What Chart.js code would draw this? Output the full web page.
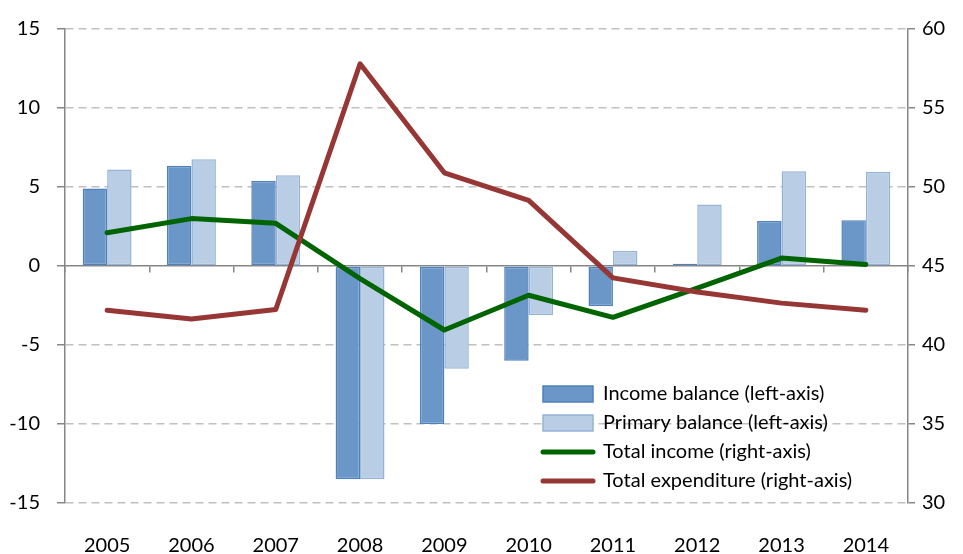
<!DOCTYPE html>
<html>
<head>
<meta charset="utf-8">
<script src="https://cdn.jsdelivr.net/npm/chart.js@4/dist/chart.umd.min.js"></script>
<style>
  html, body { margin: 0; padding: 0; background: #fff; }
</style>
</head>
<body>
<canvas id="my-chart" width="963" height="554"></canvas>
<script>
const years = ['2005', '2006', '2007', '2008', '2009', '2010', '2011', '2012', '2013', '2014'];
const incomeBalance = [4.9, 6.35, 5.4, -13.5, -10.0, -6.0, -2.55, 0.15, 2.85, 2.9];
const primaryBalance = [6.1, 6.75, 5.75, -13.5, -6.5, -3.1, 0.95, 3.9, 6.0, 5.95];
const totalIncome = [47.1, 48.0, 47.7, 44.2, 40.95, 43.15, 41.75, 43.6, 45.5, 45.1];
const totalExpenditure = [42.2, 41.65, 42.25, 57.8, 50.9, 49.15, 44.25, 43.35, 42.65, 42.2];
const leftTicks = [-15, -10, -5, 0, 5, 10, 15];
const rightTicks = [30, 35, 40, 45, 50, 55, 60];

const axisGrey = 'rgb(134,134,134)';
const gridGrey = 'rgb(192,192,192)';

Chart.defaults.font.family = 'Lato, "Open Sans", sans-serif';
Chart.defaults.font.size = 20;
Chart.defaults.color = '#000';

// move the legend into the lower right corner of the plot
const legendSpot = {
  id: 'legendSpot',
  afterLayout(chart) {
    const lg = chart.legend;
    lg.left = 534;
    lg.right = chart.chartArea.right;
    lg.width = lg.right - lg.left;
    lg.bottom = 500;
  }
};

const ctx = document.getElementById('my-chart').getContext('2d');
new Chart(ctx, {
  type: 'bar',
  data: {
    labels: years,
    datasets: [
      {
        label: 'Income balance (left-axis)',
        data: incomeBalance,
        backgroundColor: 'rgb(106,150,200)',
        borderColor: 'rgb(79,129,189)',
        borderWidth: 1.5,
        borderSkipped: false,
        yAxisID: 'y',
        order: 2
      },
      {
        label: 'Primary balance (left-axis)',
        data: primaryBalance,
        backgroundColor: 'rgb(185,205,229)',
        borderColor: 'rgb(149,179,215)',
        borderWidth: 1.5,
        borderSkipped: false,
        yAxisID: 'y',
        order: 2
      },
      {
        type: 'line',
        label: 'Total income (right-axis)',
        data: totalIncome,
        borderColor: 'rgb(0,100,0)',
        backgroundColor: 'rgb(0,100,0)',
        borderWidth: 5,
        pointRadius: 0,
        borderJoinStyle: 'round',
        borderCapStyle: 'round',
        yAxisID: 'y2',
        order: 1
      },
      {
        type: 'line',
        label: 'Total expenditure (right-axis)',
        data: totalExpenditure,
        borderColor: 'rgb(150,55,53)',
        backgroundColor: 'rgb(150,55,53)',
        borderWidth: 5,
        pointRadius: 0,
        borderJoinStyle: 'round',
        borderCapStyle: 'round',
        yAxisID: 'y2',
        order: 0
      }
    ]
  },
  plugins: [legendSpot],
  options: {
    responsive: false,
    animation: false,
    devicePixelRatio: 1,
    layout: { padding: { top: 26, left: 0, right: 0, bottom: 0 } },
    datasets: {
      bar: { categoryPercentage: 0.58, barPercentage: 1 }
    },
    plugins: {
      tooltip: { enabled: false },
      legend: {
        position: 'chartArea',
        align: 'end',
        labels: {
          usePointStyle: true,
          pointStyleWidth: 50,
          boxHeight: 16,
          padding: 9,
          color: '#000',
          font: { size: 20 },
          sort: (a, b) => a.datasetIndex - b.datasetIndex,
          generateLabels: chart => {
            const items = Chart.defaults.plugins.legend.labels.generateLabels(chart);
            items.forEach(it => {
              const ds = chart.data.datasets[it.datasetIndex];
              if (ds.type === 'line') {
                it.pointStyle = 'line';
                it.lineWidth = 5;
                it.strokeStyle = ds.borderColor;
                it.lineCap = 'round';
              } else {
                it.pointStyle = 'rect';
                it.lineWidth = 1.5;
                it.fillStyle = ds.backgroundColor;
                it.strokeStyle = ds.borderColor;
              }
            });
            return items;
          }
        }
      }
    },
    scales: {
      x: {
        type: 'category',
        position: 'bottom',
        grid: { display: false, drawTicks: false },
        border: { display: false },
        ticks: { padding: 31, maxRotation: 0, autoSkip: false },
        afterFit: s => { s.height = 51; }
      },
      x2: {
        type: 'category',
        position: { y: 0 },
        offset: true,
        grid: {
          offset: true,
          drawOnChartArea: false,
          tickLength: 6,
          tickColor: axisGrey,
          lineWidth: 1.5
        },
        border: { color: axisGrey, width: 1.5 },
        ticks: { display: false }
      },
      y: {
        position: 'left',
        min: -15,
        max: 15,
        afterBuildTicks: s => { s.ticks = leftTicks.map(v => ({ value: v })); },
        grid: {
          color: c => (c.tick && c.tick.value === 0) ? 'rgba(0,0,0,0)' : gridGrey,
          lineWidth: 1.5,
          tickLength: 8,
          tickColor: axisGrey
        },
        border: { color: axisGrey, width: 1.5, dash: [8, 5] },
        ticks: { padding: 17 },
        afterFit: s => { s.width = 65; }
      },
      y2: {
        position: 'right',
        min: 30,
        max: 60,
        afterBuildTicks: s => { s.ticks = rightTicks.map(v => ({ value: v })); },
        grid: {
          drawOnChartArea: false,
          lineWidth: 1.5,
          tickLength: 7,
          tickColor: axisGrey
        },
        border: { color: axisGrey, width: 1.5 },
        ticks: { padding: 7 },
        afterFit: s => { s.width = 55; }
      }
    }
  }
});
</script>
</body>
</html>
